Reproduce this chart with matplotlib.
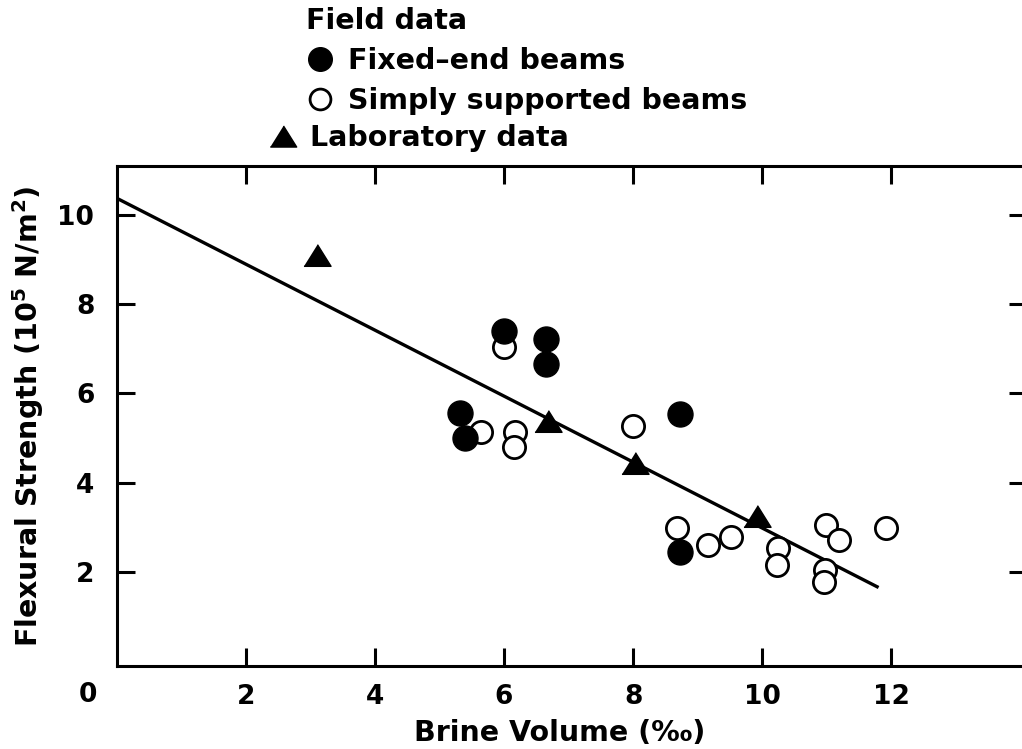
import matplotlib
matplotlib.use("Agg")
import matplotlib.pyplot as plt
from matplotlib.lines import Line2D

# Field data, fixed-end beams (filled circles)
fixed_x = [6.0, 6.65, 6.65, 5.32, 5.40, 8.72, 8.72]
fixed_y = [7.40, 7.22, 6.66, 5.56, 5.00, 5.54, 2.45]

# Field data, simply supported beams (open circles)
simple_x = [6.0, 5.64, 6.17, 6.16, 8.0, 8.68, 9.16, 9.51, 10.24, 10.22,
            10.99, 11.19, 11.92, 10.97, 10.95]
simple_y = [7.05, 5.14, 5.14, 4.80, 5.26, 2.99, 2.60, 2.79, 2.53, 2.15,
            3.05, 2.71, 2.99, 2.04, 1.78]

# Laboratory data (triangles)
lab_x = [3.10, 6.68, 8.03, 9.91]
lab_y = [9.10, 5.38, 4.45, 3.25]

# regression line end points
fit_x = [0.0, 11.8]
fit_y = [10.38, 1.65]

x_ticks = [2, 4, 6, 8, 10, 12]
y_ticks = [2, 4, 6, 8, 10]

plt.rcParams['font.family'] = ['DejaVu Sans']
plt.rcParams['font.weight'] = 'bold'
plt.rcParams['axes.labelweight'] = 'bold'
plt.rcParams['mathtext.fontset'] = 'dejavusans'
plt.rcParams['mathtext.default'] = 'bf'

FS = 19      # tick labels
LFS = 20.5   # axis labels and legend
tri = [(-1, -0.8), (1, -0.8), (0, 0.8)]

fig = plt.figure(figsize=(10.22, 7.49), dpi=100)
ax = fig.add_axes([0.114, 0.1108, 0.891, 0.6676])

ax.plot(fit_x, fit_y, color='black', lw=2.4, solid_capstyle='butt', zorder=2)
ax.plot(simple_x, simple_y, ls='none', marker='o', ms=16, mfc='white',
        mec='black', mew=2.0, zorder=3)
ax.plot(fixed_x, fixed_y, ls='none', marker='o', ms=18, color='black', zorder=4)
ax.plot(lab_x, lab_y, ls='none', marker=tri, ms=19.5, color='black', zorder=4)

ax.set_xlim(0, 14.1)
ax.set_ylim(-0.11, 11.10)
ax.set_xticks(x_ticks)
ax.set_yticks(y_ticks)
ax.tick_params(direction='in', length=13, width=2.2, top=True, right=True,
               labelsize=FS)
ax.tick_params(axis='x', pad=13)
ax.tick_params(axis='y', pad=16)
for s in ax.spines.values():
    s.set_linewidth(2.2)

# shared origin label
ax.annotate('0', xy=(0, 0), xycoords='axes fraction', xytext=(-20.5, -21),
            textcoords='offset points', ha='center', va='center', fontsize=FS)

ax.set_xlabel('Brine Volume (‰)', fontsize=LFS, va='center')
ax.xaxis.set_label_coords(0.487, -0.134)
ax.set_ylabel('Flexural Strength (10$^5$ N/m$^2$)', fontsize=LFS, va='center')
ax.yaxis.set_label_coords(-0.097, 0.5)

# legends
h_fixed = Line2D([], [], ls='none', marker='o', ms=17, color='black')
h_simple = Line2D([], [], ls='none', marker='o', ms=15, mfc='white',
                  mec='black', mew=2.0)
h_lab = Line2D([], [], ls='none', marker=tri, ms=19, color='black')

fig.legend([h_fixed, h_simple], ['Fixed\u2013end beams', 'Simply supported beams'],
           title='Field data', title_fontproperties={'size': LFS, 'weight': 'bold'},
           loc='upper left', bbox_to_anchor=(306 / 1022, 1 - 7 / 749),
           frameon=False, fontsize=LFS, borderpad=0, borderaxespad=0,
           handlelength=1.0, handletextpad=0.47, labelspacing=0.42,
           alignment='left')
fig.legend([h_lab], ['Laboratory data'], loc='upper left',
           bbox_to_anchor=(269 / 1022, 1 - 124 / 749), frameon=False,
           fontsize=LFS, borderpad=0, borderaxespad=0, handlelength=1.0,
           handletextpad=0.44)

fig.savefig('out.png', dpi=100)
